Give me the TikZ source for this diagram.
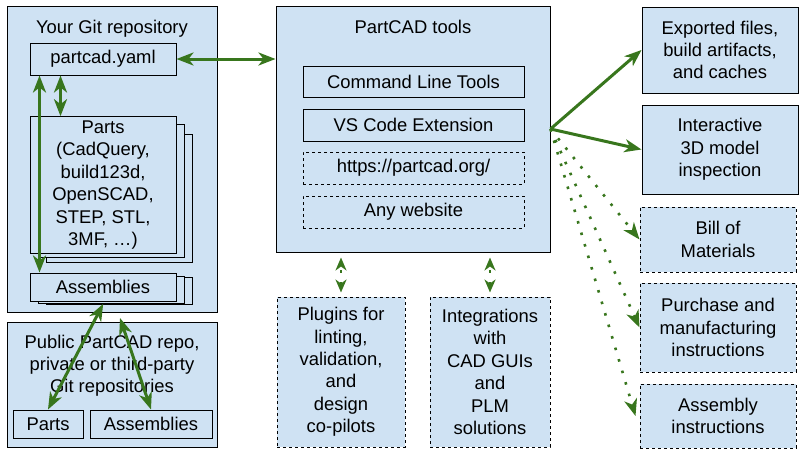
\documentclass[tikz,border=0pt]{standalone}
\usepackage{fontspec}
\setmainfont{Liberation Sans}
\usepackage{xcolor}
\usepackage{tikz}
\usetikzlibrary{positioning}
\usetikzlibrary{arrows.meta}
\definecolor{boxblue}{HTML}{CFE2F3}
\definecolor{linkgreen}{HTML}{38761D}
\newcommand{\diagfont}{\fontsize{18.4pt}{22.4pt}\selectfont}

\begin{document}
\begin{tikzpicture}
  [
    x=1pt, y=-1pt,
    >={Stealth[length=17pt,width=13pt,inset=5pt]},
    box/.style={
      draw=black,
      fill=boxblue,
      line width=1pt,
      inner sep=0pt,
      align=center,
      font=\diagfont
    },
    dbox/.style={box, dash pattern=on 3pt off 3pt},
    title/.style={inner sep=0pt, align=center, font=\diagfont},
    solidlink/.style={draw=linkgreen, line width=3pt},
    dotlink/.style={draw=linkgreen, line width=2.6pt, dash pattern=on 2.6pt off 9.4pt}
  ]
  \useasboundingbox (0,0) rectangle (805,458);

  % left: own repository
  \node (gitrepo) at (112,159) [box, minimum width=210pt, minimum height=306pt] {};
  \node (gittitle) [title, below=14.5pt of gitrepo.north] {Your Git repository};
  \node (yaml) at (103,59) [box, minimum width=146pt, minimum height=32pt] {partcad.yaml};

  \node (parts3) at (119.7,198.3) [box, minimum width=146pt, minimum height=128pt] {};
  \node (parts2) at (111.2,191)   [box, minimum width=146pt, minimum height=133.4pt] {};
  \node (parts)  at (103,185)     [box, minimum width=146pt, minimum height=136.6pt]
    {Parts\\(CadQuery,\\build123d,\\OpenSCAD,\\STEP, STL,\\3MF, …)};

  \node (asm3) at (119.8,291.3) [box, minimum width=146pt, minimum height=27.3pt] {};
  \node (asm2) at (111.2,289.7) [box, minimum width=146pt, minimum height=27.3pt] {};
  \node (asm)  at (103,287)     [box, minimum width=146pt, minimum height=28pt] {Assemblies};

  % left: other repositories
  \node (public) at (112,384.5) [box, minimum width=210pt, minimum height=125pt] {};
  \node (pubtext) [title, below=13pt of public.north]
    {Public PartCAD repo,\\private or third-party\\Git repositories};
  \node (pubparts) at (48,424)  [box, minimum width=70pt, minimum height=28pt] {Parts};
  \node (pubasm)   at (151,424) [box, minimum width=122pt, minimum height=28pt] {Assemblies};

  % middle
  \node (tools) at (413,129) [box, minimum width=274pt, minimum height=246pt] {};
  \node (toolstitle) [title, below=14.5pt of tools.north] {PartCAD tools};
  \node (cli)    at (413.5,81.5) [box,  minimum width=221pt, minimum height=31pt] {Command Line Tools};
  \node (vsc)    at (413.5,125)  [box,  minimum width=221pt, minimum height=32pt] {VS Code Extension};
  \node (web)    at (413.5,168)  [dbox, minimum width=221pt, minimum height=32pt] {https://partcad.org/};
  \node (anyweb) at (413.5,212)  [dbox, minimum width=221pt, minimum height=32pt] {Any website};

  \node (plugins) at (341,372) [dbox, minimum width=128pt, minimum height=150pt]
    {Plugins for\\linting,\\validation,\\and\\design\\co-pilots};
  \node (integ)   at (490,372) [dbox, minimum width=120pt, minimum height=150pt]
    {Integrations\\with\\CAD GUIs\\and\\PLM\\solutions};

  % right: outputs
  \node (export) at (720,50)    [box,  minimum width=156pt, minimum height=86pt]
    {Exported files,\\build artifacts,\\and caches};
  \node (inter)  at (720,149.5) [box,  minimum width=156pt, minimum height=89pt]
    {Interactive\\3D model\\inspection};
  \node (bom)    at (718,239.5) [dbox, minimum width=156pt, minimum height=65pt]
    {Bill of\\Materials};
  \node (buy)    at (718,327.5) [dbox, minimum width=156pt, minimum height=89pt]
    {Purchase and\\manufacturing\\instructions};
  \node (asmins) at (718,416)   [dbox, minimum width=156pt, minimum height=64pt]
    {Assembly\\instructions};

  % connectors
  \coordinate (pubtip) at (120,318);
  \draw [solidlink, <->] ([xshift=10pt]yaml.south west) -- ([xshift=10pt]asm.north west);
  \draw [solidlink, <->] ([xshift=31pt]yaml.south west) -- ([xshift=31pt]parts.north west);
  \draw [solidlink, <->] (yaml.east) -- (yaml.east -| tools.west);
  \draw [solidlink, <->] (pubparts.north) -- ([xshift=-8pt]asm2.south);
  \draw [solidlink, <->] (pubasm.north) -- (pubtip);

  \draw [dotlink, dash phase=7.3pt, <->, shorten <=5pt, shorten >=4pt,
         >={Stealth[length=13pt,width=11pt,inset=4pt]}] (tools.south -| plugins.north) -- (plugins.north);
  \draw [dotlink, dash phase=7.3pt, <->, shorten <=5pt, shorten >=4pt,
         >={Stealth[length=13pt,width=11pt,inset=4pt]}] (tools.south -| integ.north) -- (integ.north);

  \draw [solidlink, ->] (tools.east) -- (export.west);
  \draw [solidlink, ->] (tools.east) -- (inter.west);
  \draw [dotlink, ->] (tools.east) -- (bom.west);
  \draw [dotlink, ->] (tools.east) -- (buy.west);
  \draw [dotlink, ->] (tools.east) -- ([xshift=-4pt]asmins.west);
\end{tikzpicture}
\end{document}
